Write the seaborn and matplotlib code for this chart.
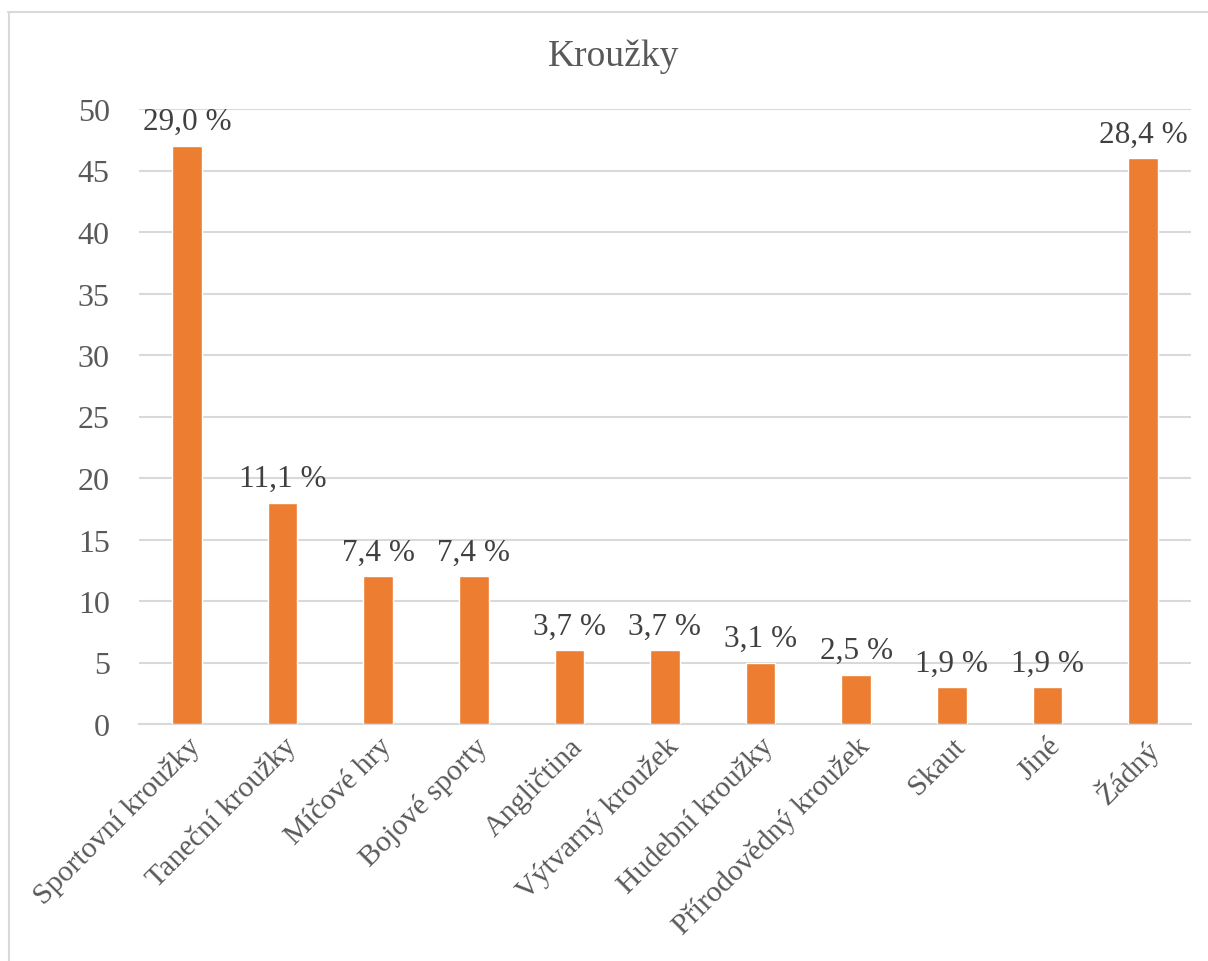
import matplotlib
matplotlib.use("Agg")
import matplotlib.pyplot as plt
from matplotlib.lines import Line2D
import seaborn as sns
import pandas as pd

categories = ["Sportovní kroužky", "Taneční kroužky", "Míčové hry", "Bojové sporty",
              "Angličtina", "Výtvarný kroužek", "Hudební kroužky", "Přírodovědný kroužek",
              "Skaut", "Jiné", "Žádný"]
counts = [47, 18, 12, 12, 6, 6, 5, 4, 3, 3, 46]
percent_labels = ["29,0 %", "11,1 %", "7,4 %", "7,4 %", "3,7 %", "3,7 %",
                  "3,1 %", "2,5 %", "1,9 %", "1,9 %", "28,4 %"]
y_ticks = [0, 5, 10, 15, 20, 25, 30, 35, 40, 45, 50]

sns.set_theme(style="white")
plt.rcParams["font.family"] = ["Liberation Serif", "DejaVu Serif"]

df = pd.DataFrame({"kategorie": categories, "pocet": counts})

fig = plt.figure(figsize=(12.08, 9.62), dpi=100)
ax = fig.add_axes([139 / 1208, 1 - 725 / 962, (1191 - 139) / 1208, (725 - 110) / 962])

sns.barplot(data=df, x="kategorie", y="pocet", color="#ED7D31", saturation=1,
            width=0.31, ax=ax, zorder=3)

ax.set_ylim(0, 50)
ax.set_yticks(y_ticks)
ax.yaxis.grid(True, color="#D9D9D9", linewidth=1.5, zorder=0)
ax.set_axisbelow(True)
for side in ["top", "right", "left"]:
    ax.spines[side].set_visible(False)
ax.spines["bottom"].set_color("#D9D9D9")
ax.spines["bottom"].set_linewidth(1.5)

ax.tick_params(axis="y", labelsize=23, labelcolor="#595959", length=0, pad=21)
ax.tick_params(axis="x", labelsize=21.5, labelcolor="#595959", length=0, pad=6)
ax.set_xticks(range(len(categories)))
ax.set_xticklabels(categories, rotation=45, ha="right", rotation_mode="anchor")
ax.set_xlabel("")
ax.set_ylabel("")

for i, (v, lab) in enumerate(zip(counts, percent_labels)):
    ax.annotate(lab, (i, v), xytext=(0, 7), textcoords="offset points",
                ha="center", va="bottom", fontsize=22.5, color="#404040")

fig.text(614 / 1208, 1 - 57 / 962, "Kroužky", ha="center", va="center",
         fontsize=27, color="#595959")

# chart frame
fig.add_artist(Line2D([8 / 1208, 1.0], [1 - 12.5 / 962, 1 - 12.5 / 962],
                      transform=fig.transFigure, color="#D9D9D9", linewidth=1.5))
fig.add_artist(Line2D([8.5 / 1208, 8.5 / 1208], [1 - 12.5 / 962, 0.0],
                      transform=fig.transFigure, color="#D9D9D9", linewidth=1.5))

fig.savefig("out.png", dpi=100, facecolor="white")
